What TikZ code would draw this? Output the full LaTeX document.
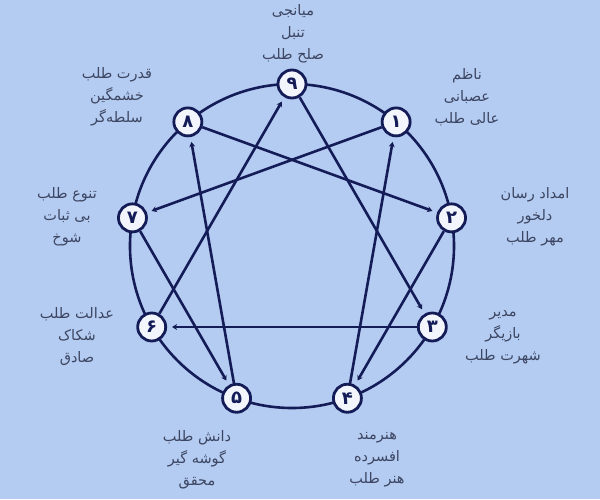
\documentclass[tikz,border=0pt]{standalone}
\usepackage{fontspec}
\newfontfamily\arabicfont[Script=Arabic]{DejaVu Sans}
\TeXXeTstate=1
\usetikzlibrary{arrows.meta}
\definecolor{bgblue}{RGB}{181,204,242}
\definecolor{navy}{RGB}{20,28,88}
\definecolor{pale}{RGB}{242,246,252}
\definecolor{textgray}{RGB}{60,70,98}

\begin{document}
\begin{tikzpicture}[x=1pt,y=1pt,
  type/.style={circle,draw=navy,fill=pale,line width=2.8pt,minimum size=28pt,inner sep=0pt,
    font=\arabicfont\bfseries\fontsize{18}{18}\selectfont,text=navy},
  trait/.style={align=center,text=textgray,font=\arabicfont\fontsize{14.5}{22}\selectfont},
  link/.style={draw=navy,line width=2.6pt,-{Stealth[length=5pt,width=6pt]},shorten >=5pt}]
 \useasboundingbox[fill=bgblue] (-292,-253) rectangle (308,246);
 \draw[navy,line width=2.6pt] (0,0) circle (162);
 % points of the figure
 \node[type] (t_9) at (90:162) {۹};
 \node[type] (t_1) at (50:162) {۱};
 \node[type] (t_2) at (10:162) {۲};
 \node[type] (t_3) at (-30:162) {۳};
 \node[type] (t_4) at (-70:162) {۴};
 \node[type] (t_5) at (-110:162) {۵};
 \node[type] (t_6) at (-150:162) {۶};
 \node[type] (t_7) at (170:162) {۷};
 \node[type] (t_8) at (130:162) {۸};
 % inner lines
 \path[link]
 (t_6) edge (t_9)
 (t_9) edge (t_3)
 (t_3) edge (t_6)
 (t_1) edge (t_7)
 (t_7) edge (t_5)
 (t_5) edge (t_8)
 (t_8) edge (t_2)
 (t_2) edge (t_4)
 (t_4) edge (t_1);
 % labels
 \node[trait] (l_9) at (1,212) {\beginR میانجی\endR\\ \beginR تنبل\endR\\ \beginR صلح طلب\endR};
 \node[trait] (l_8) at (-175,149) {\beginR قدرت طلب\endR\\ \beginR خشمگین\endR\\ \beginR سلطه‌گر\endR};
 \node[trait] (l_1) at (175,149) {\beginR ناظم\endR\\ \beginR عصبانی\endR\\ \beginR عالی طلب\endR};
 \node[trait] (l_7) at (-225,29) {\beginR تنوع طلب\endR\\ \beginR بی ثبات\endR\\ \beginR شوخ\endR};
 \node[trait] (l_2) at (243,29) {\beginR امداد رسان\endR\\ \beginR دلخور\endR\\ \beginR مهر طلب\endR};
 \node[trait] (l_6) at (-215,-91) {\beginR عدالت طلب\endR\\ \beginR شکاک\endR\\ \beginR صادق\endR};
 \node[trait] (l_3) at (211,-91) {\beginR مدیر\endR\\ \beginR بازیگر\endR\\ \beginR شهرت طلب\endR};
 \node[trait] (l_5) at (-95,-214) {\beginR دانش طلب\endR\\ \beginR گوشه گیر\endR\\ \beginR محقق\endR};
 \node[trait] (l_4) at (85,-214) {\beginR هنرمند\endR\\ \beginR افسرده\endR\\ \beginR هنر طلب\endR};
\end{tikzpicture}
\end{document}
